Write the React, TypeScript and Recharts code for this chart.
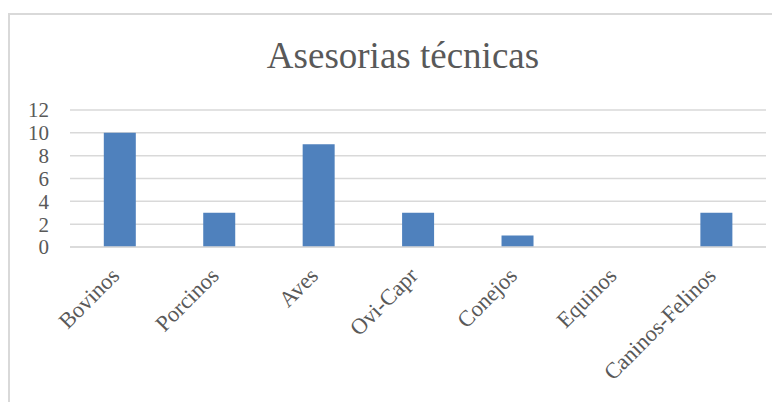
import { Bar, BarChart, CartesianGrid, XAxis, YAxis } from "recharts";

const categories = ["Bovinos", "Porcinos", "Aves", "Ovi-Capr", "Conejos", "Equinos", "Caninos-Felinos"];
const asesorias = [10, 3, 9, 3, 1, 0, 3];
const yTicks = [0, 2, 4, 6, 8, 10, 12];

const data = categories.map((name, i) => ({ name, value: asesorias[i] }));

const FONT = '"Liberation Serif", "Times New Roman", serif';

function AngledTick(props: any) {
  const { x, y, payload } = props;
  const ax = x + 1;
  const ay = y + 22;
  return (
    <text
      x={ax}
      y={ay}
      transform={`rotate(-45, ${ax}, ${ay})`}
      textAnchor="end"
      fill="#595959"
      fontSize={22.5}
      fontFamily={FONT}
    >
      {payload.value}
    </text>
  );
}

export default function App() {
  return (
    <div style={{ paddingTop: 5 }}>
      <div
        style={{
          position: "relative",
          width: 780,
          height: 400,
          borderLeft: "2px solid #d9d9d9",
          borderTop: "2px solid #d9d9d9",
          fontFamily: FONT,
        }}
      >
        <div
          style={{
            position: "absolute",
            left: 0,
            top: 19,
            width: 786,
            textAlign: "center",
            fontSize: 37,
            color: "#595959",
          }}
        >
          Asesorias técnicas
        </div>
        <BarChart
          width={772}
          height={389}
          data={data}
          margin={{ top: 95, right: 16, bottom: 37, left: 0 }}
          barCategoryGap="34%"
        >
          <CartesianGrid vertical={false} stroke="#d9d9d9" strokeWidth={1.5} />
          <XAxis
            dataKey="name"
            interval={0}
            height={120}
            tickLine={false}
            axisLine={{ stroke: "#d9d9d9", strokeWidth: 1.5 }}
            tick={<AngledTick />}
          />
          <YAxis
            width={60}
            domain={[0, 12]}
            ticks={yTicks}
            interval={0}
            axisLine={false}
            tickLine={false}
            tickSize={0}
            tickMargin={21}
            tick={{ fill: "#595959", fontSize: 21, fontFamily: FONT }}
          />
          <Bar dataKey="value" fill="#4f81bd" isAnimationActive={false} />
        </BarChart>
      </div>
    </div>
  );
}
